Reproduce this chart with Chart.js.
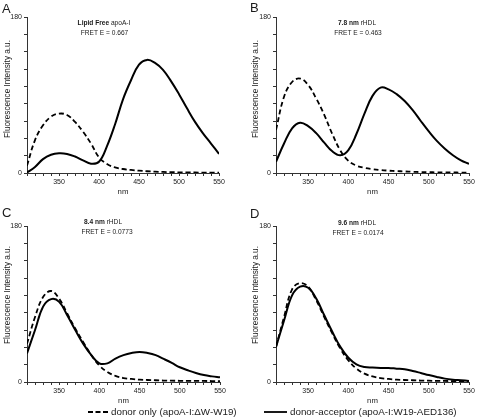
<!DOCTYPE html>
<html>
<head>
<meta charset="utf-8">
<script src="https://cdn.jsdelivr.net/npm/chart.js@4/dist/chart.umd.min.js"></script>
<style>
  html, body { margin: 0; padding: 0; background: #fff; }
  #wrap { position: relative; width: 477px; height: 420px; overflow: hidden; }
  canvas { position: absolute; left: 0; top: 0; }
</style>
</head>
<body>
<div id="wrap">
  <canvas id="cA" width="477" height="420"></canvas>
  <canvas id="cB" width="477" height="420"></canvas>
  <canvas id="cC" width="477" height="420"></canvas>
  <canvas id="cD" width="477" height="420"></canvas>
</div>
<script>
// ---- data (wavelength in nm, fluorescence intensity in a.u.) ----
const wavelengths = [310, 320, 330, 340, 350, 360, 370, 380, 390, 400, 410, 420, 430, 440, 450, 460, 470, 480, 490, 500, 510, 520, 530, 540, 550];

const donorA = [8.5, 38, 55, 65, 68.5, 67, 59, 47.7, 34, 18, 10.4, 6.5, 4.6, 3.5, 2.7, 2, 1.6, 1.2, 1, 0.8, 0.7, 0.6, 0.5, 0.5, 0.4];
const accA   = [0.5, 7, 16, 21, 22.7, 22, 19, 14.5, 10.8, 13, 31, 56, 85, 107, 125, 130.5, 127, 119, 106, 91, 74.6, 59, 45.8, 34, 22];

const donorB = [49.6, 88, 105, 109, 101.5, 86, 67, 45, 26, 14, 8.5, 6, 4.5, 3.4, 2.7, 2.2, 1.8, 1.4, 1.1, 0.9, 0.8, 0.7, 0.6, 0.5, 0.4];
const accB   = [13, 34, 51.5, 58, 54, 46, 35, 25, 20.5, 26.5, 45, 68.5, 89, 98.5, 96.5, 91, 83, 72.5, 60, 48, 37, 28, 20.5, 14.5, 10.5];

const donorC = [44, 75, 98, 105, 96, 79, 61.7, 46, 31, 19, 11.6, 7, 4.6, 3.5, 2.7, 2.3, 2, 1.7, 1.5, 1.4, 1.3, 1.2, 1.2, 1.1, 1];
const accC   = [33, 60, 87, 95.6, 92.5, 77, 60, 44, 31, 21.5, 21.5, 27, 31, 33.5, 34.7, 33.5, 31, 26.6, 22, 17, 13.5, 10.4, 8, 6.5, 5.4];

const donorD = [40.5, 75, 107, 114, 110, 94.4, 75, 56, 38.5, 25, 15.4, 9.6, 6.5, 4.6, 3.5, 2.7, 2.3, 2, 1.7, 1.5, 1.3, 1.2, 1.1, 1, 0.8];
const accD   = [40.5, 71, 100, 110, 108.7, 96.4, 77, 58, 40.5, 28, 20.4, 17.3, 16.6, 16.2, 16.2, 15.4, 14.6, 12.7, 10.4, 8, 5.8, 3.9, 2.7, 2, 1.2];

const xLabels = [350, 400, 450, 500, 550];
const yLabels = [0, 180];

const panelLetters = ['A', 'B', 'C', 'D'];
const titleBold   = ['Lipid Free', '7.8 nm', '8.4 nm', '9.6 nm'];
const titleNormal = ['apoA-I', 'rHDL', 'rHDL', 'rHDL'];
const fretLabels  = ['FRET E = 0.667', 'FRET E = 0.463', 'FRET E = 0.0773', 'FRET E = 0.0174'];
const yTitle = 'Fluorescence Intensity a.u.';
const xTitle = 'nm';
const legendLabels = ['donor only (apoA-I:\u0394W-W19)', 'donor-acceptor (apoA-I:W19-AED136)'];

// ---- styling ----
const FONT = '"Liberation Sans", Arial, Helvetica, sans-serif';
Chart.defaults.font.family = FONT;
Chart.defaults.color = '#1a1a1a';
const AXIS = '#333';

const panelText = {
  id: 'panelText',
  afterDraw(chart, args, o) {
    const ctx = chart.ctx;
    ctx.save();
    ctx.fillStyle = '#1a1a1a';
    ctx.textBaseline = 'middle';
    // panel letter
    ctx.font = '13px ' + FONT;
    ctx.textAlign = 'left';
    ctx.fillText(o.letter, o.letterX, o.letterY);
    // title line 1 (mixed bold / normal)
    const fb = 'bold 6.6px ' + FONT, fn = '6.6px ' + FONT;
    ctx.font = fb; const w1 = ctx.measureText(o.bold).width;
    ctx.font = fn; const w2 = ctx.measureText(' ' + o.normal).width;
    const x0 = o.t1x - (w1 + w2) / 2;
    ctx.font = fb; ctx.fillText(o.bold, x0, o.t1y);
    ctx.font = fn; ctx.fillText(' ' + o.normal, x0 + w1, o.t1y);
    // title line 2
    ctx.textAlign = 'center';
    ctx.fillText(o.fret, o.t2x, o.t2y);
    // y axis title
    ctx.save();
    ctx.font = '8.2px ' + FONT;
    ctx.translate(o.ytx, o.yty);
    ctx.rotate(-Math.PI / 2);
    ctx.fillText(yTitle, 0, 0);
    ctx.restore();
    // legend
    if (o.legend) {
      const ly = 412;
      ctx.strokeStyle = '#000';
      ctx.lineWidth = 1.8;
      ctx.setLineDash([5, 2.5]);
      ctx.beginPath(); ctx.moveTo(88, ly); ctx.lineTo(108, ly); ctx.stroke();
      ctx.setLineDash([]);
      ctx.beginPath(); ctx.moveTo(264, ly); ctx.lineTo(287, ly); ctx.stroke();
      ctx.font = '9.8px ' + FONT;
      ctx.textAlign = 'left';
      ctx.fillText(legendLabels[0], 111, ly);
      ctx.fillText(legendLabels[1], 290, ly);
    }
    ctx.restore();
  }
};

function series(vals) { return wavelengths.map((w, i) => ({ x: w, y: vals[i] })); }

function makeChart(id, donor, acc, pad, txt) {
  new Chart(document.getElementById(id), {
    type: 'line',
    data: {
      datasets: [
        { label: legendLabels[0], data: series(donor), borderColor: '#000', borderWidth: 1.8,
          borderDash: [5, 3], pointRadius: 0, tension: 0.4, fill: false },
        { label: legendLabels[1], data: series(acc), borderColor: '#000', borderWidth: 2,
          pointRadius: 0, tension: 0.4, fill: false }
      ]
    },
    options: {
      responsive: false,
      maintainAspectRatio: false,
      devicePixelRatio: 1,
      animation: false,
      layout: { padding: pad },
      plugins: { legend: { display: false }, tooltip: { enabled: false }, panelText: txt },
      scales: {
        x: {
          type: 'linear', min: 310, max: 550,
          afterFit: (a) => { a.height = 24; },
          border: { display: true, color: AXIS, width: 1 },
          grid: { display: true, drawOnChartArea: false, drawTicks: true, tickLength: 3, color: AXIS },
          ticks: { stepSize: 10, autoSkip: false, maxRotation: 0, padding: 2,
                   font: { size: 7 }, color: '#1a1a1a',
                   callback: (v) => xLabels.includes(v) ? String(v) : '' },
          title: { display: true, text: xTitle, font: { size: 7.8 }, color: '#1a1a1a',
                   padding: { top: 0, bottom: 0 } }
        },
        y: {
          type: 'linear', min: 0, max: 180,
          afterFit: (a) => { a.width = 27; },
          border: { display: true, color: AXIS, width: 1 },
          grid: { display: true, drawOnChartArea: false, drawTicks: true, tickLength: 3, color: AXIS },
          ticks: { stepSize: 20, padding: 2, font: { size: 7 }, color: '#1a1a1a',
                   callback: (v) => yLabels.includes(v) ? String(v) : '' }
        }
      }
    },
    plugins: [panelText]
  });
}

makeChart('cA', donorA, accA, { left: 0, right: 258, top: 17, bottom: 223 },
  { letter: panelLetters[0], letterX: 2, letterY: 9, bold: titleBold[0], normal: titleNormal[0], fret: fretLabels[0],
    t1x: 104, t1y: 23, t2x: 104.5, t2y: 33, ytx: 8, yty: 89 });
makeChart('cB', donorB, accB, { left: 249, right: 8, top: 17, bottom: 223 },
  { letter: panelLetters[1], letterX: 250, letterY: 8, bold: titleBold[1], normal: titleNormal[1], fret: fretLabels[1],
    t1x: 357, t1y: 23, t2x: 358, t2y: 33, ytx: 256, yty: 89 });
makeChart('cC', donorC, accC, { left: 0, right: 257, top: 226, bottom: 14 },
  { letter: panelLetters[2], letterX: 2, letterY: 213, bold: titleBold[2], normal: titleNormal[2], fret: fretLabels[2],
    t1x: 103, t1y: 222, t2x: 107, t2y: 232, ytx: 8, yty: 295 });
makeChart('cD', donorD, accD, { left: 249, right: 8, top: 226, bottom: 14 },
  { letter: panelLetters[3], letterX: 250, letterY: 214, bold: titleBold[3], normal: titleNormal[3], fret: fretLabels[3],
    t1x: 357, t1y: 223, t2x: 358, t2y: 233, ytx: 256, yty: 295, legend: true });
</script>
</body>
</html>
